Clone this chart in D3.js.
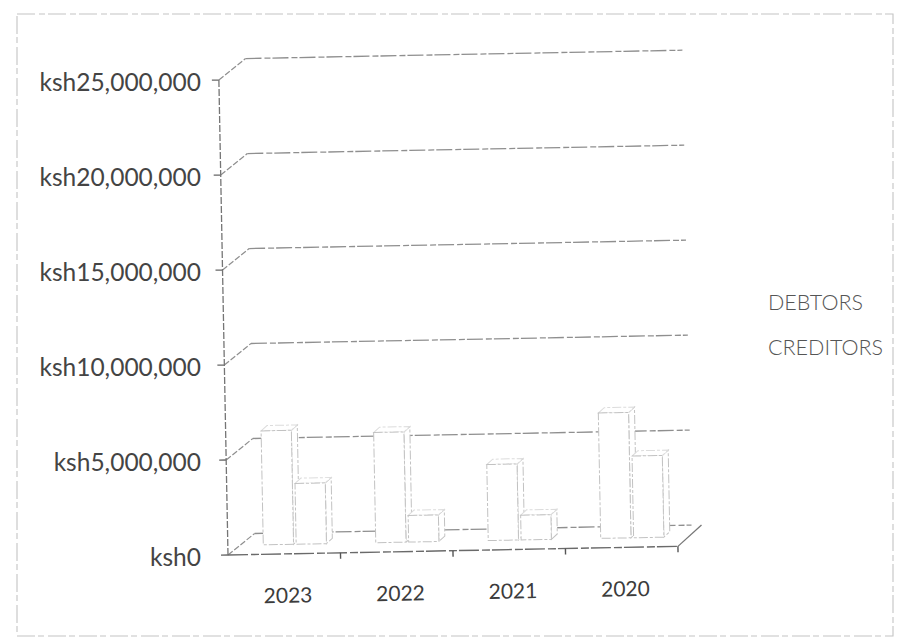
<!DOCTYPE html>
<html>
<head>
<meta charset="utf-8">
<script src="https://cdn.jsdelivr.net/npm/d3@7"></script>
<style>
  html, body { margin: 0; padding: 0; background: #fff; }
  svg { display: block; }
</style>
</head>
<body>
<svg id="chart" width="911" height="644"></svg>
<script>
// Debtors vs creditors per year (ksh), 3-D clustered columns
const categories = ["2023", "2022", "2021", "2020"];
const seriesNames = ["DEBTORS", "CREDITORS"];
const debtors   = [6000000, 5800000, 4000000, 6600000];
const creditors = [3200000, 1400000, 1300000, 4300000];
const yTicks = [0, 5000000, 10000000, 15000000, 20000000, 25000000];

const svg = d3.select("#chart");
const fmt = v => "ksh" + d3.format(",")(v);

// outer frame
svg.append("rect")
  .attr("x", 17).attr("y", 14).attr("width", 876).attr("height", 622)
  .attr("fill", "none").attr("stroke", "#c4c4c4").attr("stroke-width", 1.1)
  .attr("stroke-dasharray", "18 4 6 3");

// plot geometry (front plane) and depth offset of the back wall
const x0 = 228, x1 = 678;
const DX = 24, DY = -21;
const y = d3.scaleLinear().domain([0, 25000000]).range([555, 80]);
const x = d3.scaleBand().domain(categories).range([x0, x1]);
const xs = d3.scaleBand().domain(seriesNames).range([0, x.bandwidth()])
  .paddingInner(0.08).paddingOuter(0.75);

// the whole 3-D frame sits slightly tilted
const plot = svg.append("g")
  .attr("transform", `rotate(-1.1, ${x0}, ${y(0)})`);

const gridStroke = "#8f8f8f";
const grid = plot.append("g");

// back-wall gridlines and the side-wall connectors
yTicks.forEach(t => {
  const yf = y(t);
  grid.append("line")
    .attr("x1", x0 + DX + 3).attr("x2", x1 + DX - 10)
    .attr("y1", yf + DY).attr("y2", yf + DY)
    .attr("stroke", gridStroke).attr("stroke-width", 1.3)
    .attr("stroke-dasharray", "16 3 6 2");
  grid.append("line")
    .attr("x1", x0).attr("y1", yf)
    .attr("x2", x0 + DX + 3).attr("y2", yf + DY)
    .attr("stroke", gridStroke).attr("stroke-width", 1.2)
    .attr("stroke-dasharray", "6 2");
  // tick on the value axis
  grid.append("line")
    .attr("x1", x0 - 7).attr("x2", x0)
    .attr("y1", yf).attr("y2", yf)
    .attr("stroke", "#666").attr("stroke-width", 1.3);
});

// floor: right edge
grid.append("line")
  .attr("x1", x1).attr("y1", y(0))
  .attr("x2", x1 + DX).attr("y2", y(0) + DY)
  .attr("stroke", "#777").attr("stroke-width", 1.3);

// 3-D columns
const f1 = 0.45, f2 = 0.7;   // front / back face depth fractions
const rows = [];
categories.forEach((c, i) => {
  rows.push({ cat: c, s: "DEBTORS", v: debtors[i] });
  rows.push({ cat: c, s: "CREDITORS", v: creditors[i] });
});

const barStroke = "#c2c2c2";
const bars = plot.append("g");
rows.forEach(d => {
  const bx = x(d.cat) + xs(d.s);
  const bw = xs.bandwidth();
  const fx = bx + DX * f1, fy = DY * f1;
  const ddx = DX * (f2 - f1), ddy = DY * (f2 - f1);
  const top = y(d.v) + fy, bot = y(0) + fy;
  const g = bars.append("g").attr("fill", "#fff")
    .attr("stroke", barStroke).attr("stroke-width", 1)
    .attr("stroke-dasharray", "9 2 3 2");
  // side face
  g.append("path").attr("d",
    `M${fx + bw},${top} L${fx + bw + ddx},${top + ddy} L${fx + bw + ddx},${bot + ddy} L${fx + bw},${bot} Z`);
  // top face
  g.append("path").attr("stroke", "#dcdcdc").attr("d",
    `M${fx},${top} L${fx + ddx},${top + ddy} L${fx + bw + ddx},${top + ddy} L${fx + bw},${top} Z`);
  // front face
  g.append("rect").attr("x", fx).attr("y", top)
    .attr("width", bw).attr("height", bot - top);
});

// value axis and category axis (front edges)
plot.append("line")
  .attr("x1", x0).attr("x2", x0).attr("y1", y(25000000)).attr("y2", y(0))
  .attr("stroke", "#757575").attr("stroke-width", 1.3)
  .attr("stroke-dasharray", "7 2");
plot.append("line")
  .attr("x1", x0).attr("x2", x1).attr("y1", y(0)).attr("y2", y(0))
  .attr("stroke", "#6a6a6a").attr("stroke-width", 1.4)
  .attr("stroke-dasharray", "20 3 8 2");
plot.selectAll(".ctick").data(categories).join("line")
  .attr("x1", d => x(d) + x.bandwidth()).attr("x2", d => x(d) + x.bandwidth())
  .attr("y1", y(0)).attr("y2", y(0) + 6)
  .attr("stroke", "#555").attr("stroke-width", 1.4);

// category labels
plot.selectAll(".clabel").data(categories).join("text")
  .attr("x", d => x(d) + x.bandwidth() / 2 + 3)
  .attr("y", y(0) + 49)
  .attr("text-anchor", "middle")
  .attr("font-family", "Lato, 'Open Sans', sans-serif")
  .attr("font-size", 21)
  .attr("fill", "#3c3c3c")
  .text(d => d);

// value labels
svg.selectAll(".ylabel").data(yTicks).join("text")
  .attr("x", 201)
  .attr("y", d => y(d) + 2)
  .attr("dy", "0.36em")
  .attr("text-anchor", "end")
  .attr("font-family", "Lato, 'Open Sans', sans-serif")
  .attr("font-size", 24.5)
  .attr("fill", "#444")
  .text(fmt);

// legend
svg.selectAll(".legend").data(seriesNames).join("text")
  .attr("x", 768)
  .attr("y", (d, i) => 310 + i * 45)
  .attr("font-family", "Lato, 'Open Sans', sans-serif")
  .attr("font-weight", 300)
  .attr("font-size", 21.5)
  .attr("fill", "#555")
  .text(d => d);
</script>
</body>
</html>
